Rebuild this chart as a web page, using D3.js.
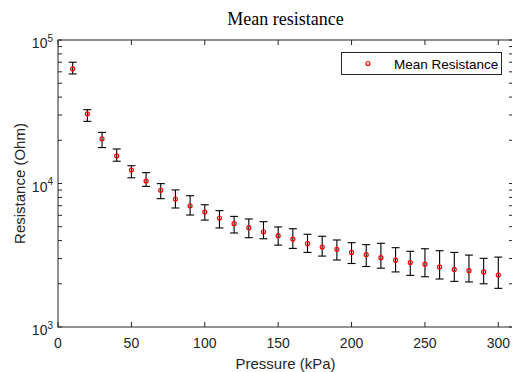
<!DOCTYPE html>
<html>
<head>
<meta charset="utf-8">
<script src="https://cdn.jsdelivr.net/npm/d3@7"></script>
<style>
  body { margin: 0; background: #fff; }
  svg { display: block; }
</style>
</head>
<body>
<svg id="chart" width="512" height="372"></svg>
<script>
// pressure steps (kPa)
const pressure = [10, 20, 30, 40, 50, 60, 70, 80, 90, 100, 110, 120, 130, 140, 150,
  160, 170, 180, 190, 200, 210, 220, 230, 240, 250, 260, 270, 280, 290, 300]
// mean resistance (Ohm) and error bar ends
const meanR = [63000, 30600, 20500, 15600, 12400, 10400, 8970, 7800, 7000, 6320, 5750, 5250, 4920, 4610, 4330,
  4100, 3810, 3610, 3480, 3310, 3190, 3040, 2920, 2810, 2740, 2620, 2520, 2470, 2420, 2300]
const upperR = [70000, 32700, 22700, 17400, 13300, 11900, 9980, 9020, 8220, 7110, 6470, 5900, 5660, 5420, 4980,
  4840, 4430, 4290, 4040, 3870, 3750, 3830, 3570, 3370, 3510, 3400, 3310, 3170, 3010, 3070]
const lowerR = [58000, 27100, 17800, 14300, 10960, 9550, 7840, 6750, 6030, 5560, 4900, 4520, 4190, 4120, 3720,
  3530, 3310, 3120, 2930, 2770, 2640, 2570, 2420, 2290, 2240, 2160, 2080, 2060, 2000, 1860]
const xTicks = [0, 50, 100, 150, 200, 250, 300]
const yMajor = [1000, 10000, 100000]
const yMinor = [2000, 3000, 4000, 5000, 6000, 7000, 8000, 9000,
  20000, 30000, 40000, 50000, 60000, 70000, 80000, 90000]

const data = pressure.map((p, i) => ({ p, m: meanR[i], hi: upperR[i], lo: lowerR[i] }))

const svg = d3.select('#chart')
const margin = { left: 58, right: 0, top: 40, bottom: 45 }
const width = 512, height = 372
const axisColor = '#262626'
const sans = '"Liberation Sans", Arial, sans-serif'

const x = d3.scaleLinear().domain([0, 310]).range([margin.left, width - margin.right + 1])
const y = d3.scaleLog().domain([1000, 100000]).range([height - margin.bottom, margin.top])

const x0 = margin.left, x1 = width - margin.right + 1
const y0 = height - margin.bottom, y1 = margin.top

// error bars
const bars = svg.append('g').attr('stroke', '#000').attr('stroke-width', 1.1)
data.forEach(d => {
  const cx = x(d.p)
  bars.append('line').attr('x1', cx).attr('x2', cx).attr('y1', y(d.hi)).attr('y2', y(d.lo))
  bars.append('line').attr('x1', cx - 4).attr('x2', cx + 4).attr('y1', y(d.hi)).attr('y2', y(d.hi))
  bars.append('line').attr('x1', cx - 4).attr('x2', cx + 4).attr('y1', y(d.lo)).attr('y2', y(d.lo))
})

svg.append('g').selectAll('circle')
  .data(data)
  .join('circle')
  .attr('cx', d => x(d.p))
  .attr('cy', d => y(d.m))
  .attr('r', 2)
  .attr('fill', 'none')
  .attr('stroke', '#ff0000')
  .attr('stroke-width', 1.2)

// box + ticks
const axes = svg.append('g').attr('stroke', axisColor).attr('stroke-width', 1)
axes.append('rect').attr('x', x0).attr('y', y1).attr('width', x1 - x0).attr('height', y0 - y1).attr('fill', 'none')

xTicks.forEach(t => {
  axes.append('line').attr('x1', x(t)).attr('x2', x(t)).attr('y1', y0).attr('y2', y0 - 5)
  axes.append('line').attr('x1', x(t)).attr('x2', x(t)).attr('y1', y1).attr('y2', y1 + 5)
})
yMajor.concat(yMinor).forEach(t => {
  const len = 4
  axes.append('line').attr('x1', x0).attr('x2', x0 + len).attr('y1', y(t)).attr('y2', y(t))
  axes.append('line').attr('x1', x1 - len).attr('x2', x1).attr('y1', y(t)).attr('y2', y(t))
})

// tick labels
svg.append('g').selectAll('text')
  .data(xTicks)
  .join('text')
  .attr('x', d => x(d))
  .attr('y', 347.5)
  .attr('text-anchor', 'middle')
  .attr('font-family', sans)
  .attr('font-size', 14)
  .attr('fill', axisColor)
  .text(d => d)

const yl = svg.append('g').selectAll('text')
  .data(yMajor)
  .join('text')
  .attr('x', 53)
  .attr('y', d => y(d) + 8)
  .attr('text-anchor', 'end')
  .attr('font-family', sans)
  .attr('font-size', 14)
  .attr('fill', axisColor)
yl.append('tspan').text('10')
yl.append('tspan').attr('dy', -6.5).attr('font-size', 10).text(d => Math.round(Math.log10(d)))

// axis labels + title
svg.append('text')
  .attr('x', (x0 + x1) / 2)
  .attr('y', 369)
  .attr('text-anchor', 'middle')
  .attr('font-family', sans)
  .attr('font-size', 15)
  .attr('fill', axisColor)
  .text('Pressure (kPa)')

svg.append('text')
  .attr('transform', `translate(25, ${(y0 + y1) / 2}) rotate(-90)`)
  .attr('text-anchor', 'middle')
  .attr('font-family', sans)
  .attr('font-size', 15)
  .attr('fill', axisColor)
  .text('Resistance (Ohm)')

svg.append('text')
  .attr('x', (x0 + x1) / 2)
  .attr('y', 25)
  .attr('text-anchor', 'middle')
  .attr('font-family', '"Liberation Serif", "Times New Roman", serif')
  .attr('font-size', 18)
  .attr('fill', '#000')
  .text('Mean resistance')

// legend
const lg = svg.append('g')
lg.append('rect')
  .attr('x', 341.5).attr('y', 52.5).attr('width', 160).attr('height', 22)
  .attr('fill', '#fff').attr('stroke', axisColor).attr('stroke-width', 1)
lg.append('circle')
  .attr('cx', 368).attr('cy', 63.5).attr('r', 2)
  .attr('fill', 'none').attr('stroke', '#ff0000').attr('stroke-width', 1.2)
lg.append('text')
  .attr('x', 394).attr('y', 68.5)
  .attr('font-family', sans)
  .attr('font-size', 13.5)
  .attr('fill', '#000')
  .text('Mean Resistance')
</script>
</body>
</html>
